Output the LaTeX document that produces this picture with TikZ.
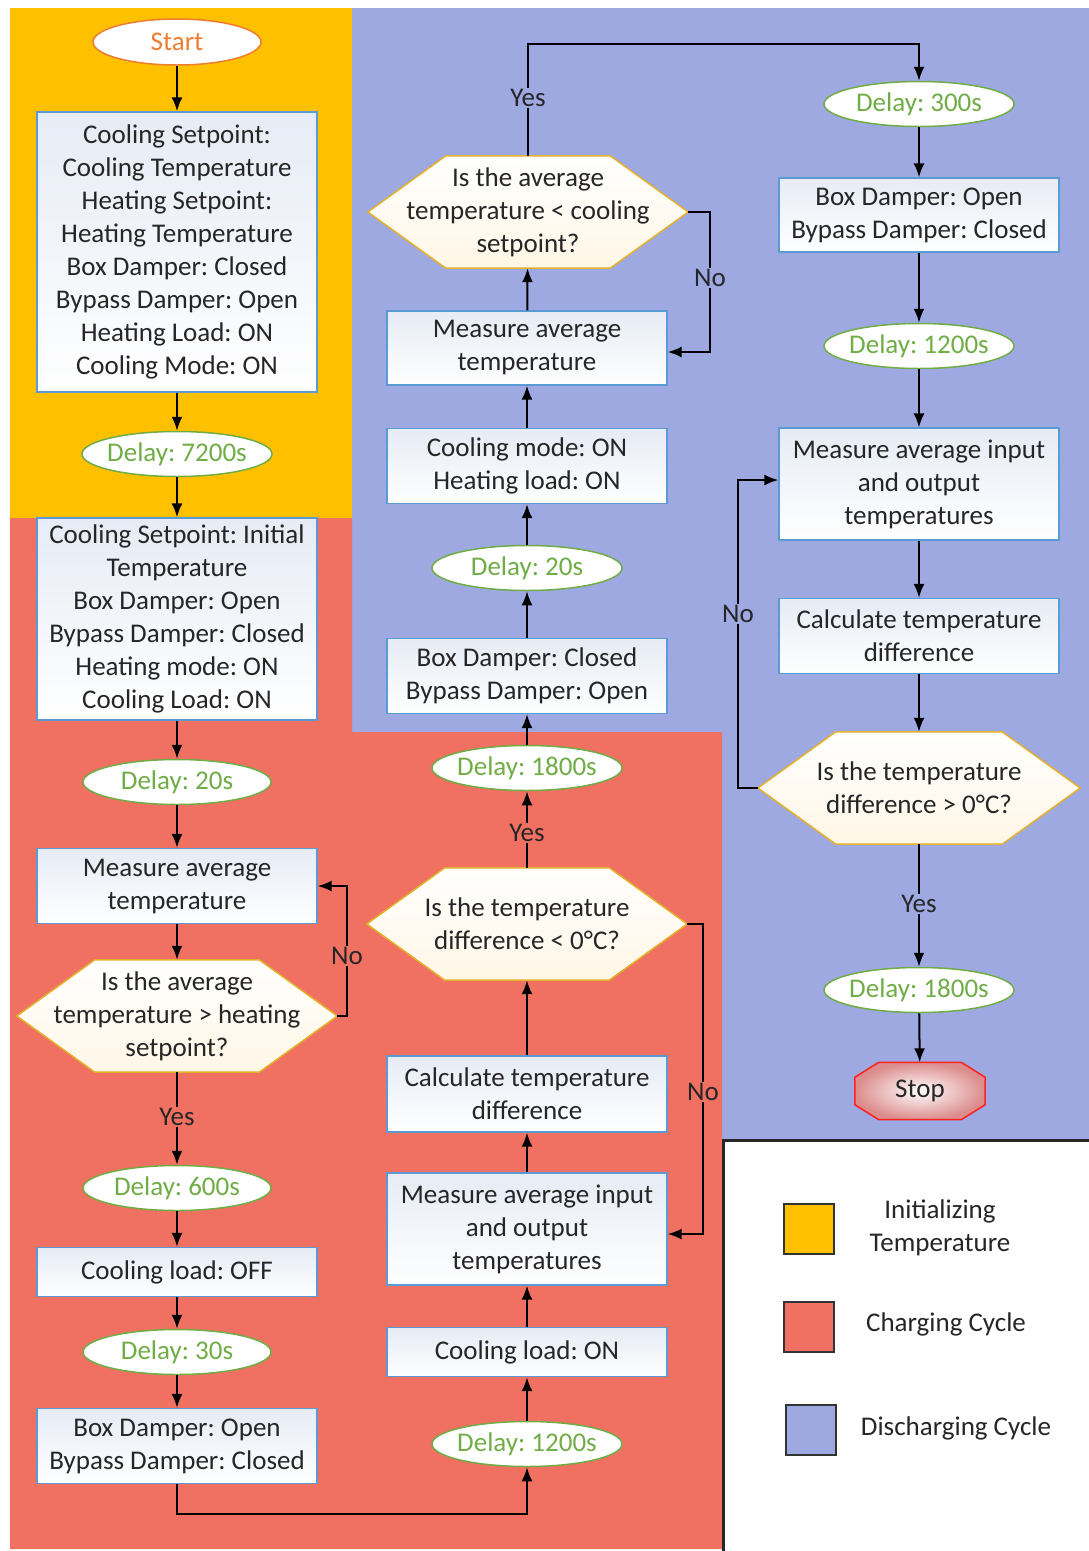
\documentclass[tikz,border=0pt]{standalone}
\usepackage{fontspec}
\setmainfont{Carlito}
\frenchspacing
\usetikzlibrary{shapes.geometric,arrows.meta,calc}
\pgfdeclarelayer{bg}
\pgfdeclarelayer{shp}
\pgfsetlayers{bg,shp,main}
\definecolor{cOrange}{HTML}{FFC000}
\definecolor{cRed}{HTML}{F07162}
\definecolor{cBlue}{HTML}{9DA9E0}
\definecolor{cBoxBorder}{HTML}{5B9BD5}
\definecolor{cBoxFill}{HTML}{E6EBF5}
\definecolor{cGreen}{HTML}{70AD47}
\definecolor{cGold}{HTML}{E3B22A}
\definecolor{cHexFill}{HTML}{FFF6E6}
\definecolor{cStartOr}{HTML}{ED7D31}
\definecolor{cTxt}{HTML}{262626}
\definecolor{cStopRed}{HTML}{FF2020}
\definecolor{cStopFill}{HTML}{DC8C8C}
\newcommand{\myfs}{\fontsize{27}{33}\selectfont}
\newcommand{\zw}[1]{\makebox[0pt][c]{#1}}
\tikzset{
  every node/.style={font=\myfs, text=cTxt},
  box/.style={rectangle, draw=cBoxBorder, line width=1.3pt, top color=cBoxFill, bottom color=white,
              align=center, inner sep=0pt, minimum width=280pt},
  delay/.style={ellipse, draw=cGreen, line width=1.5pt, fill=white, text=cGreen, inner sep=0pt,
              minimum width=190pt, minimum height=45pt},
  startsty/.style={ellipse, draw=cStartOr, line width=1.5pt, fill=white, text=cStartOr, inner sep=0pt,
              minimum width=168pt, minimum height=46pt},
  hexnode/.style={rectangle, draw=none, align=center, inner sep=0pt, minimum width=320pt, minimum height=112pt},
  hexsty/.style={draw=cGold, line width=1.5pt, top color=white, bottom color=cHexFill},
  arr/.style={draw=black, line width=2pt, -{Latex[length=14pt,width=11pt]}},
  lbl/.style={inner sep=1pt},
  legsq/.style={rectangle, draw=black!80, line width=1.8pt, minimum width=50pt, minimum height=50pt, inner sep=0pt},
}
\newcommand{\hexdraw}[1]{%
  \begin{pgfonlayer}{shp}
  \draw[hexsty] (#1.west) -- ([xshift=78pt]#1.north west) -- ([xshift=-78pt]#1.north east)
     -- (#1.east) -- ([xshift=-78pt]#1.south east) -- ([xshift=78pt]#1.south west) -- cycle;
  \end{pgfonlayer}}
\begin{document}
\begin{tikzpicture}[x=1pt,y=-1pt]
\useasboundingbox (0,0) rectangle (1089,1551);
\begin{pgfonlayer}{bg}
  \fill[white] (0,0) rectangle (1089,1551);
  \fill[cOrange] (10,8) rectangle (352,518);
  \fill[cBlue] (352,8) -- (1089,8) -- (1089,1140) -- (722,1140) -- (722,732) -- (352,732) -- cycle;
  \fill[cRed] (10,518) -- (352,518) -- (352,732) -- (722,732) -- (722,1549) -- (10,1549) -- cycle;
  \draw[black!85, line width=3pt] (723,1551) -- (723,1140) -- (1089,1140);
\end{pgfonlayer}

% ---------- left column ----------
\node[startsty] (start) at (177,42) {\zw{Start}};
\node[box, minimum height=280pt] (b1) at (177,252) {Cooling Setpoint:\\Cooling Temperature\\Heating Setpoint:\\Heating Temperature\\Box Damper: Closed\\Bypass Damper: Open\\Heating Load: ON\\Cooling Mode: ON};
\node[delay] (d7200) at (177,454) {\zw{Delay: 7200s}};
\node[box, minimum height=202pt] (b2) at (177,619) {Cooling Setpoint: Initial\\Temperature\\Box Damper: Open\\Bypass Damper: Closed\\Heating mode: ON\\Cooling Load: ON};
\node[delay, minimum width=188pt] (d20a) at (177,782) {\zw{Delay: 20s}};
\node[box, minimum height=75pt] (m1) at (177,886) {Measure average\\temperature};
\node[hexnode] (h1) at (177,1016) {Is the average\\temperature > heating\\setpoint?};
\hexdraw{h1}
\node[delay, minimum width=188pt] (d600) at (177,1188) {\zw{Delay: 600s}};
\node[box, minimum height=49pt] (b3) at (177,1272) {Cooling load: OFF};
\node[delay, minimum width=188pt] (d30) at (177,1352) {\zw{Delay: 30s}};
\node[box, minimum height=75pt] (b4) at (177,1446) {Box Damper: Open\\Bypass Damper: Closed};

% ---------- middle column ----------
\node[delay] (d1200a) at (527,1444) {\zw{Delay: 1200s}};
\node[box, minimum height=49pt] (c1) at (527,1352) {Cooling load: ON};
\node[box, minimum height=112pt] (c2) at (527,1229) {Measure average input\\and output\\temperatures};
\node[box, minimum height=76pt] (c3) at (527,1094) {Calculate temperature\\difference};
\node[hexnode] (h2) at (527,924) {Is the temperature\\difference < 0°C?};
\hexdraw{h2}
\node[delay] (d1800a) at (527,768) {\zw{Delay: 1800s}};
\node[box, minimum height=75pt] (c4) at (527,676) {Box Damper: Closed\\Bypass Damper: Open};
\node[delay] (d20b) at (527,568) {\zw{Delay: 20s}};
\node[box, minimum height=75pt] (c5) at (527,466) {Cooling mode: ON\\Heating load: ON};
\node[box, minimum height=74pt] (c6) at (527,348) {Measure average\\temperature};
\node[hexnode] (h3) at (528,212) {Is the average\\temperature < cooling\\setpoint?};
\hexdraw{h3}

% ---------- right column ----------
\node[delay] (d300) at (919,104) {\zw{Delay: 300s}};
\node[box, minimum height=74pt] (r1) at (919,215) {Box Damper: Open\\Bypass Damper: Closed};
\node[delay] (d1200b) at (919,346) {\zw{Delay: 1200s}};
\node[box, minimum height=112pt] (r2) at (919,484) {Measure average input\\and output\\temperatures};
\node[box, minimum height=75pt] (r3) at (919,636) {Calculate temperature\\difference};
\node[hexnode, minimum width=322pt] (h4) at (919,788) {Is the temperature\\difference > 0°C?};
\hexdraw{h4}
\node[delay] (d1800b) at (919,990) {\zw{Delay: 1800s}};
\node[rectangle, draw=none, minimum width=130pt, minimum height=57pt, inner sep=0pt] (stop) at (920,1091) {\zw{Stop}};
\begin{pgfonlayer}{shp}
\draw[draw=cStopRed, line width=1.5pt, inner color=white, outer color=cStopFill]
  ([xshift=24pt]stop.north west) -- ([xshift=-24pt]stop.north east) -- ([yshift=-15pt]stop.north east)
  -- ([yshift=15pt]stop.south east) -- ([xshift=-24pt]stop.south east) -- ([xshift=24pt]stop.south west)
  -- ([yshift=15pt]stop.south west) -- ([yshift=-15pt]stop.north west) -- cycle;
\end{pgfonlayer}

% ---------- connectors ----------
\draw[arr] (start) -- (b1);
\draw[arr] (b1) -- (d7200);
\draw[arr] (d7200) -- (b2);
\draw[arr] (b2) -- (d20a);
\draw[arr] (d20a) -- (m1);
\draw[arr] (m1) -- (h1);
\draw[arr] (h1) -- (d600);
\draw[arr] (d600) -- (b3);
\draw[arr] (b3) -- (d30);
\draw[arr] (d30) -- (b4);
\draw[arr] (h1.east) -- ++(10,0) |- (m1.east);
\draw[arr] (b4.south) -- ++(0,30) -| (d1200a.south);
\draw[arr] (d1200a) -- (c1);
\draw[arr] (c1) -- (c2);
\draw[arr] (c2) -- (c3);
\draw[arr] (c3) -- (h2);
\draw[arr] (h2) -- (d1800a);
\draw[arr] (h2.east) -- ++(16,0) |- ([yshift=-5pt]c2.east);
\draw[arr] (d1800a) -- (c4);
\draw[arr] (c4) -- (d20b);
\draw[arr] (d20b) -- (c5);
\draw[arr] (c5) -- (c6);
\draw[arr] (c6) -- (h3);
\draw[arr] (h3.east) -- ++(22,0) |- ([yshift=-4pt]c6.east);
\draw[arr] (h3.north) -- ++(0,-112) -| (d300.north);
\draw[arr] (d300) -- (r1);
\draw[arr] (r1) -- (d1200b);
\draw[arr] (d1200b) -- (r2);
\draw[arr] (r2) -- (r3);
\draw[arr] (r3) -- (h4);
\draw[arr] (h4.west) -- ++(-20,0) |- ([yshift=4pt]r2.west);
\draw[arr] (h4) -- (d1800b);
\draw[arr] (d1800b) -- (stop);

% ---------- labels ----------
\node[lbl, fill=cRed] (n1) at (347,956) {No};
\node[lbl, fill=cRed] (y1) at (177,1117) {Yes};
\node[lbl, fill=cRed] (y2) at (527,833) {Yes};
\node[lbl, fill=cRed] (n2) at (703,1092) {No};
\node[lbl, fill=cBlue] (y3) at (528,98) {Yes};
\node[lbl, fill=cBlue] (n3) at (710,278) {No};
\node[lbl, fill=cBlue] (n4) at (738,614) {No};
\node[lbl, fill=cBlue] (y4) at (919,904) {Yes};

% ---------- legend ----------
\node[legsq, fill=cOrange] (lg1) at (809,1229) {};
\node[legsq, fill=cRed] (lg2) at (809,1327) {};
\node[legsq, fill=cBlue] (lg3) at (811,1430) {};
\node[align=center] (lt1) at (940,1228) {Initializing\\Temperature};
\node (lt2) at (946,1324) {Charging Cycle};
\node (lt3) at (956,1428) {Discharging Cycle};
\end{tikzpicture}
\end{document}
